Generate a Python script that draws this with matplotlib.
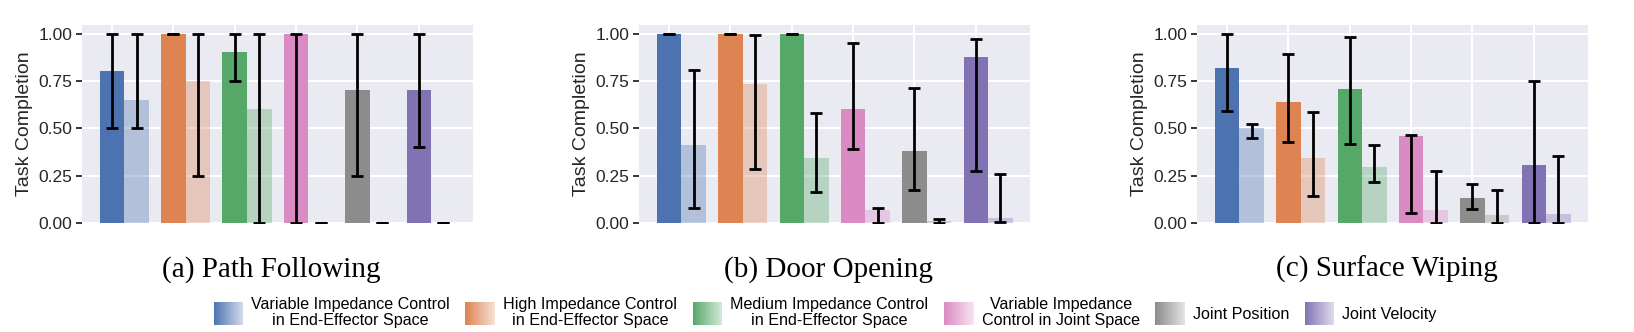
import numpy as np
import matplotlib
matplotlib.use("Agg")
import matplotlib.pyplot as plt
from matplotlib.legend_handler import HandlerBase
from matplotlib.patches import Rectangle, Patch
from matplotlib.colors import to_rgb
from matplotlib.ticker import FormatStrFormatter

# ---------------- data ----------------
methods = ["Variable Impedance Control\nin End-Effector Space",
           "High Impedance Control\nin End-Effector Space",
           "Medium Impedance Control\nin End-Effector Space",
           "Variable Impedance\nControl in Joint Space",
           "Joint Position",
           "Joint Velocity"]
panel_titles = ["(a) Path Following", "(b) Door Opening", "(c) Surface Wiping"]

path_dark = [0.80, 1.00, 0.90, 1.00, 0.70, 0.70]
path_dark_lo = [0.50, 1.00, 0.75, 0.00, 0.25, 0.40]
path_dark_hi = [1.00, 1.00, 1.00, 1.00, 1.00, 1.00]
path_light = [0.65, 0.75, 0.60, 0.00, 0.00, 0.00]
path_light_lo = [0.50, 0.25, 0.00, 0.00, 0.00, 0.00]
path_light_hi = [1.00, 1.00, 1.00, 0.00, 0.00, 0.00]

door_dark = [1.00, 1.00, 1.00, 0.60, 0.38, 0.875]
door_dark_lo = [1.00, 1.00, 1.00, 0.39, 0.175, 0.275]
door_dark_hi = [1.00, 1.00, 1.00, 0.95, 0.71, 0.97]
door_light = [0.41, 0.735, 0.345, 0.07, 0.01, 0.025]
door_light_lo = [0.08, 0.285, 0.165, 0.00, 0.00, 0.005]
door_light_hi = [0.81, 0.99, 0.58, 0.08, 0.02, 0.26]

wipe_dark = [0.82, 0.64, 0.705, 0.46, 0.13, 0.305]
wipe_dark_lo = [0.59, 0.425, 0.415, 0.055, 0.075, 0.00]
wipe_dark_hi = [1.00, 0.89, 0.98, 0.465, 0.205, 0.75]
wipe_light = [0.50, 0.345, 0.295, 0.067, 0.04, 0.05]
wipe_light_lo = [0.45, 0.145, 0.215, 0.00, 0.00, 0.00]
wipe_light_hi = [0.525, 0.585, 0.41, 0.275, 0.175, 0.355]

yticks = [0.0, 0.25, 0.5, 0.75, 1.0]

# ---------------- style ----------------
colors = ["#4C72B0", "#DD8452", "#55A868", "#DA8BC3", "#8C8C8C", "#8172B3"]
bg = "#EAEAF2"
sans = ["Liberation Sans", "DejaVu Sans"]
serif = ["Liberation Serif", "DejaVu Serif"]
plt.rcParams["font.family"] = sans

fig = plt.figure(figsize=(16.34, 3.32), dpi=100)

axes_left = [0.0502, 0.3911, 0.7326]
ax_w, ax_b, ax_h = 0.2395, 0.3283, 0.5964

panels = [
    (path_dark, path_dark_lo, path_dark_hi, path_light, path_light_lo, path_light_hi),
    (door_dark, door_dark_lo, door_dark_hi, door_light, door_light_lo, door_light_hi),
    (wipe_dark, wipe_dark_lo, wipe_dark_hi, wipe_light, wipe_light_lo, wipe_light_hi),
]

width = 0.4
for k, (dk, dlo, dhi, lt, llo, lhi) in enumerate(panels):
    ax = fig.add_axes([axes_left[k], ax_b, ax_w, ax_h])
    ax.set_facecolor(bg)
    for s in ax.spines.values():
        s.set_visible(False)
    ax.set_axisbelow(True)
    ax.grid(True, color="white", linewidth=1.5)
    x = np.arange(len(methods))
    dk = np.array(dk); lt = np.array(lt)
    ax.bar(x, dk, width, color=colors, zorder=2)
    ax.bar(x + width, lt, width, color=colors, alpha=0.35, zorder=2)
    ax.errorbar(x, dk, yerr=[dk - np.array(dlo), np.array(dhi) - dk], fmt="none",
                ecolor="black", elinewidth=2, capsize=4, capthick=2, zorder=3)
    ax.errorbar(x + width, lt, yerr=[lt - np.array(llo), np.array(lhi) - lt], fmt="none",
                ecolor="black", elinewidth=2, capsize=4, capthick=2, zorder=3)
    ax.set_xticks(x)
    ax.set_xticklabels([])
    ax.tick_params(axis="x", length=0)
    ax.set_yticks(yticks)
    ax.yaxis.set_major_formatter(FormatStrFormatter("%.2f"))
    ax.tick_params(axis="y", length=4, width=1.3, color="#262626", labelsize=12.5,
                   labelcolor="#262626", pad=3)
    ax.set_ylim(0, 1.045)
    ax.set_ylabel("Task Completion", fontsize=14, color="#262626", labelpad=4)
    cx = axes_left[k] + ax_w / 2 - 0.0037
    fig.text(cx, 0.1657, panel_titles[k], ha="center", va="baseline",
             fontsize=21, family=serif, color="black")


class HandlerGradient(HandlerBase):
    def create_artists(self, legend, orig_handle, xdescent, ydescent, width, height,
                       fontsize, trans):
        base = np.array(to_rgb(orig_handle.get_facecolor()))
        n = 40
        arts = []
        for i in range(n):
            t = i / (n - 1)
            c = base * (1 - 0.75 * t) + np.ones(3) * 0.75 * t
            r = Rectangle((-xdescent + width * i / n, -ydescent), width / n * 1.05, height,
                          facecolor=c, edgecolor="none", transform=trans)
            arts.append(r)
        return arts


handles = [Patch(facecolor=c) for c in colors]
leg = fig.legend(handles, methods, loc="center", bbox_to_anchor=(0.505, 0.0587), ncol=6,
                 frameon=False, fontsize=11.6, handlelength=1.85, handleheight=1.8,
                 handletextpad=0.5, columnspacing=0.95, borderpad=0,
                 handler_map={Patch: HandlerGradient()})
for t in leg.get_texts():
    t.set_multialignment("center")
    t.set_linespacing(1.1)
    t.set_color("black")

fig.savefig("out.png", dpi=100)
